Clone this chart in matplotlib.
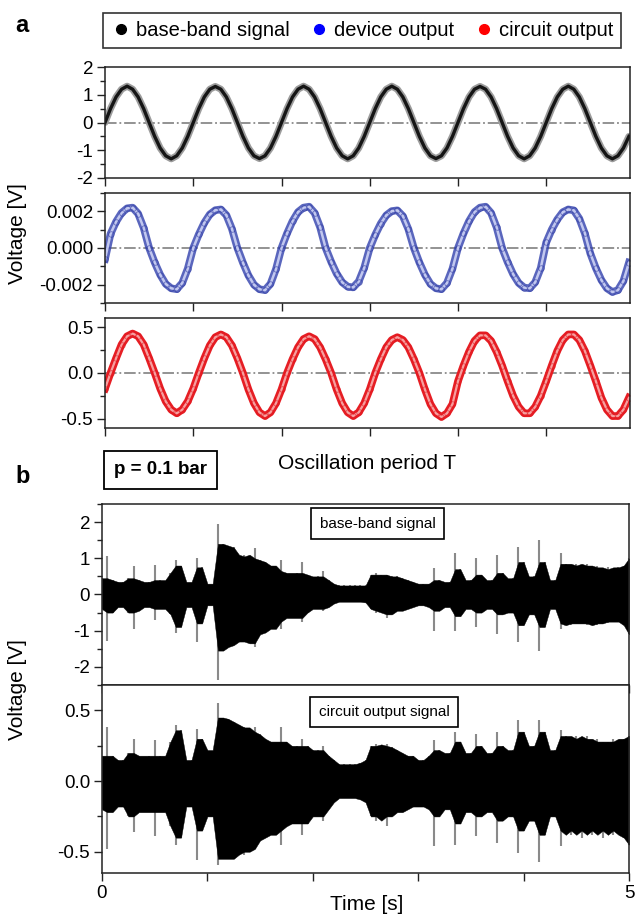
import numpy as np
import matplotlib.pyplot as plt
from matplotlib.lines import Line2D
from matplotlib.ticker import MultipleLocator

plt.rcParams['font.family'] = ['Liberation Sans', 'DejaVu Sans']
plt.rcParams['axes.unicode_minus'] = False

# panel a: readings every 1/16 of an oscillation period
period_t = np.arange(96) / 16.0

base_band = [
    0.00, 0.50, 0.92, 1.20, 1.31, 1.20, 0.92, 0.50, 0.00, -0.50, -0.92, -1.20, -1.31, -1.20, -0.92, -0.50,
    0.00, 0.50, 0.92, 1.20, 1.30, 1.20, 0.92, 0.50, 0.00, -0.50, -0.92, -1.20, -1.30, -1.20, -0.92, -0.50,
    0.00, 0.50, 0.92, 1.20, 1.31, 1.20, 0.92, 0.50, 0.00, -0.50, -0.92, -1.20, -1.31, -1.20, -0.92, -0.50,
    0.00, 0.50, 0.92, 1.20, 1.31, 1.20, 0.92, 0.50, 0.00, -0.50, -0.92, -1.20, -1.30, -1.20, -0.92, -0.50,
    0.00, 0.50, 0.92, 1.20, 1.30, 1.20, 0.92, 0.50, 0.00, -0.50, -0.92, -1.20, -1.31, -1.20, -0.92, -0.50,
    0.00, 0.50, 0.92, 1.20, 1.31, 1.20, 0.92, 0.50, 0.00, -0.50, -0.92, -1.20, -1.31, -1.20, -0.92, -0.50,
]

# device output in mV
device_mv = [
    -0.60, 0.77, 1.43, 1.91, 2.16, 2.20, 1.87, 1.10, 0.00, -0.79, -1.46, -1.96, -2.20, -2.25, -1.91, -1.13,
    0.00, 0.74, 1.37, 1.83, 2.06, 2.10, 1.79, 1.05, 0.00, -0.80, -1.50, -2.00, -2.25, -2.30, -1.96, -1.15,
    0.00, 0.79, 1.46, 1.96, 2.20, 2.25, 1.91, 1.13, 0.00, -0.75, -1.40, -1.87, -2.11, -2.15, -1.83, -1.08,
    0.00, 0.72, 1.33, 1.78, 2.01, 2.05, 1.74, 1.03, 0.00, -0.79, -1.46, -1.96, -2.20, -2.25, -1.91, -1.13,
    0.00, 0.79, 1.46, 1.96, 2.20, 2.25, 1.91, 1.13, 0.00, -0.77, -1.43, -1.91, -2.16, -2.20, -1.87, -1.10,
    0.30, 1.00, 1.55, 1.95, 2.10, 2.05, 1.60, 0.80, -0.30, -1.10, -1.75, -2.20, -2.40, -2.30, -1.80, -0.80,
]

circuit_a = [
    -0.17, 0.00, 0.16, 0.31, 0.40, 0.43, 0.40, 0.31, 0.16, 0.00, -0.17, -0.31, -0.40, -0.44, -0.40, -0.31,
    -0.17, 0.00, 0.16, 0.30, 0.39, 0.42, 0.39, 0.30, 0.16, 0.00, -0.18, -0.33, -0.43, -0.47, -0.43, -0.33,
    -0.18, 0.00, 0.15, 0.28, 0.37, 0.40, 0.37, 0.28, 0.15, 0.00, -0.18, -0.33, -0.43, -0.47, -0.43, -0.33,
    -0.18, 0.00, 0.15, 0.28, 0.36, 0.39, 0.36, 0.28, 0.15, 0.00, -0.18, -0.34, -0.44, -0.48, -0.44, -0.34,
    -0.09, 0.08, 0.23, 0.35, 0.41, 0.41, 0.35, 0.23, 0.08, -0.09, -0.25, -0.37, -0.44, -0.44, -0.37, -0.25,
    -0.09, 0.08, 0.24, 0.36, 0.42, 0.42, 0.36, 0.24, 0.08, -0.09, -0.27, -0.40, -0.47, -0.47, -0.40, -0.27,
]

# panel b: envelope of the recorded signals, read every 0.05 s
time_b = np.linspace(0, 5, 101)

bb_top = [
    0.45, 1.05, 0.40, 0.35, 0.35, 0.45, 0.78, 0.40, 0.30, 0.35,
    0.82, 0.40, 0.35, 0.60, 0.96, 0.80, 0.35, 0.30, 1.00, 0.75,
    0.30, 0.25, 1.96, 1.40, 1.35, 1.30, 1.05, 1.10, 1.00, 1.28,
    0.95, 0.90, 0.80, 0.65, 0.96, 0.60, 0.55, 0.60, 0.90, 0.55,
    0.45, 0.50, 0.64, 0.40, 0.30, 0.25, 0.25, 0.25, 0.25, 0.25,
    0.25, 0.55, 0.60, 0.55, 0.55, 0.50, 0.50, 0.45, 0.40, 0.35,
    0.30, 0.30, 0.30, 0.73, 0.40, 0.30, 0.35, 1.14, 0.70, 0.30,
    0.40, 1.00, 0.55, 0.30, 0.40, 1.10, 0.60, 0.35, 0.45, 1.32,
    0.90, 0.40, 0.50, 1.50, 0.90, 0.40, 0.40, 1.14, 0.85, 0.80,
    0.85, 0.80, 0.85, 0.75, 0.80, 0.70, 0.75, 0.70, 0.75, 0.80,
    1.00,
]
bb_bot = [
    -0.40, -1.28, -0.50, -0.35, -0.30, -0.50, -0.96, -0.45, -0.30, -0.35,
    -0.70, -0.40, -0.35, -0.55, -1.05, -0.90, -0.35, -0.30, -1.32, -0.80,
    -0.30, -0.25, -2.37, -1.55, -1.45, -1.40, -1.20, -1.30, -1.35, -1.45,
    -1.10, -1.05, -0.95, -0.75, -0.95, -0.65, -0.60, -0.65, -0.75, -0.50,
    -0.40, -0.40, -0.45, -0.35, -0.25, -0.20, -0.20, -0.20, -0.20, -0.20,
    -0.22, -0.40, -0.50, -0.45, -0.65, -0.55, -0.45, -0.45, -0.40, -0.35,
    -0.30, -0.30, -0.35, -1.00, -0.45, -0.30, -0.35, -1.00, -0.60, -0.30,
    -0.40, -0.91, -0.50, -0.30, -0.40, -1.10, -0.55, -0.35, -0.50, -1.32,
    -0.85, -0.40, -0.55, -1.55, -0.90, -0.40, -0.40, -0.95, -0.80, -0.85,
    -0.80, -0.80, -0.85, -0.80, -0.85, -0.75, -0.80, -0.75, -0.70, -0.85,
    -1.10,
]

co_top = [
    0.18, 0.38, 0.18, 0.15, 0.15, 0.20, 0.30, 0.18, 0.15, 0.18,
    0.29, 0.18, 0.15, 0.28, 0.40, 0.36, 0.15, 0.15, 0.37, 0.30,
    0.22, 0.18, 0.55, 0.45, 0.44, 0.42, 0.40, 0.38, 0.35, 0.38,
    0.33, 0.30, 0.28, 0.25, 0.38, 0.28, 0.25, 0.25, 0.30, 0.25,
    0.22, 0.22, 0.25, 0.18, 0.15, 0.12, 0.12, 0.12, 0.12, 0.13,
    0.15, 0.25, 0.26, 0.25, 0.26, 0.24, 0.22, 0.20, 0.18, 0.18,
    0.15, 0.15, 0.18, 0.29, 0.22, 0.18, 0.20, 0.35, 0.28, 0.18,
    0.20, 0.33, 0.25, 0.18, 0.20, 0.35, 0.25, 0.18, 0.22, 0.43,
    0.35, 0.20, 0.25, 0.43, 0.35, 0.20, 0.22, 0.36, 0.32, 0.30,
    0.32, 0.30, 0.32, 0.28, 0.30, 0.28, 0.28, 0.30, 0.28, 0.30,
    0.32,
]
co_bot = [
    -0.20, -0.48, -0.22, -0.18, -0.18, -0.25, -0.36, -0.22, -0.18, -0.22,
    -0.39, -0.22, -0.18, -0.32, -0.45, -0.40, -0.18, -0.18, -0.56, -0.35,
    -0.25, -0.20, -0.59, -0.55, -0.55, -0.55, -0.50, -0.52, -0.50, -0.48,
    -0.42, -0.40, -0.38, -0.35, -0.45, -0.32, -0.30, -0.30, -0.38, -0.30,
    -0.25, -0.25, -0.28, -0.20, -0.15, -0.12, -0.12, -0.12, -0.12, -0.13,
    -0.15, -0.25, -0.28, -0.25, -0.32, -0.25, -0.22, -0.22, -0.20, -0.18,
    -0.15, -0.18, -0.20, -0.46, -0.25, -0.18, -0.20, -0.45, -0.30, -0.20,
    -0.22, -0.39, -0.25, -0.18, -0.22, -0.44, -0.28, -0.20, -0.25, -0.51,
    -0.35, -0.22, -0.28, -0.57, -0.38, -0.22, -0.25, -0.46, -0.35, -0.38,
    -0.35, -0.40, -0.35, -0.38, -0.35, -0.40, -0.35, -0.38, -0.35, -0.40,
    -0.45,
]


def median3(vals):
    # running median over 3 readings: the dense body without single spikes
    v = np.pad(np.asarray(vals), 1, mode='edge')
    return np.median(np.vstack([v[:-2], v[1:-1], v[2:]]), axis=0)


def style_axis(ax):
    for s in ax.spines.values():
        s.set_linewidth(1.1)
        s.set_color('#222222')
    ax.tick_params(which='both', direction='out', labelsize=13.5, width=1.0, color='#222222', pad=2.5)
    ax.tick_params(which='major', length=6)
    ax.tick_params(which='minor', length=3.5)


fig = plt.figure(figsize=(6.35, 9.17), dpi=100)

# ---- panel a ----
ax1 = fig.add_axes([0.1654, 0.8059, 0.8268, 0.1210])
ax2 = fig.add_axes([0.1654, 0.6696, 0.8268, 0.1200])
ax3 = fig.add_axes([0.1654, 0.5333, 0.8268, 0.1200])

ax1.plot(period_t, base_band, color='#9c9c9c', lw=5.0, solid_capstyle='round')
ax1.plot(period_t, base_band, color='#151515', lw=2.4)
ax1.set_ylim(-2, 2)
ax1.yaxis.set_major_locator(MultipleLocator(1))
ax1.yaxis.set_minor_locator(MultipleLocator(0.5))

dev = np.array(device_mv) / 1000.0
ax2.plot(period_t, dev, color='#3140ad', lw=5.5, alpha=0.8)
ax2.plot(period_t, dev, color='#c2c8ef', lw=1.8)
ax2.plot(period_t, dev, 'o', ms=4, mfc='none', mec='#2a36a0', mew=0.6, alpha=0.6)
ax2.set_ylim(-0.003, 0.003)
ax2.yaxis.set_major_locator(MultipleLocator(0.002))
ax2.yaxis.set_minor_locator(MultipleLocator(0.001))
ax2.yaxis.set_major_formatter(lambda v, p: f'{v:.3f}')

ax3.plot(period_t, circuit_a, color='#e61e24', lw=5.5)
ax3.plot(period_t, circuit_a, color='#f6a0a0', lw=1.6)
ax3.plot(period_t, circuit_a, 'o', ms=4, mfc='none', mec='#e0141c', mew=0.6, alpha=0.6)
ax3.set_ylim(-0.6, 0.6)
ax3.yaxis.set_major_locator(MultipleLocator(0.5))
ax3.yaxis.set_minor_locator(MultipleLocator(0.25))
ax3.yaxis.set_major_formatter(lambda v, p: f'{v:.1f}')

for ax in (ax1, ax2, ax3):
    ax.axhline(0, color='#8a8a8a', lw=1.3, ls='-.', zorder=0.5)
    ax.set_xlim(0, 5.95)
    ax.set_xticks(range(6))
    ax.set_xticklabels([])
    style_axis(ax)

handles = [Line2D([], [], marker='o', ls='', color=c, ms=7) for c in ('black', '#0000ff', '#ff0000')]
leg = fig.legend(handles, ['base-band signal', 'device output', 'circuit output'],
                 loc='upper left', bbox_to_anchor=(103 / 635, 1 - 13 / 917),
                 ncol=3, fontsize=14.5, frameon=True, fancybox=False, handletextpad=0.25,
                 handlelength=1.0, borderaxespad=0, borderpad=0.4, columnspacing=0.95)
leg.get_frame().set_edgecolor('black')
leg.get_frame().set_linewidth(1.2)

fig.text(0.024, 0.972, 'a', fontsize=17, fontweight='bold', ha='left', va='center')
fig.text(0.028, 1 - 234 / 917, 'Voltage [V]', fontsize=15, rotation=90, ha='center', va='center')
fig.text(0.578, 1 - 463 / 917, 'Oscillation period T', fontsize=15, ha='center', va='center')

# ---- panel b ----
bx1 = fig.add_axes([0.1606, 0.2530, 0.8300, 0.1974])
bx2 = fig.add_axes([0.1606, 0.0480, 0.8300, 0.2050])

for ax, top, bot, lim in ((bx1, bb_top, bb_bot, (-2.5, 2.5)), (bx2, co_top, co_bot, (-0.65, 0.68))):
    ax.vlines(time_b, bot, top, color='#8a8a8a', lw=1.5, zorder=1)
    ax.fill_between(time_b, -median3(np.abs(bot)), median3(top), color='black', lw=0.3,
                    edgecolor='black', zorder=2)
    ax.set_xlim(0, 5)
    ax.set_ylim(*lim)
    ax.set_xticks(range(6))
    style_axis(ax)

bx1.set_xticklabels([])
bx1.yaxis.set_major_locator(MultipleLocator(1))
bx1.yaxis.set_minor_locator(MultipleLocator(0.5))
bx2.yaxis.set_major_locator(MultipleLocator(0.5))
bx2.yaxis.set_minor_locator(MultipleLocator(0.25))
bx2.yaxis.set_major_formatter(lambda v, p: f'{v:.1f}')
bx2.set_xticklabels(['0', '', '', '', '', '5'])
fig.text(0.578, 1 - 905 / 917, 'Time [s]', fontsize=15, ha='center', va='center')

box = dict(boxstyle='square,pad=0.55', facecolor='white', edgecolor='black', lw=1.2)
bx1.text(0.523, 0.892, 'base-band signal', transform=bx1.transAxes, fontsize=11,
         ha='center', va='center', bbox=box, zorder=5)
bx2.text(0.535, 0.856, 'circuit output signal', transform=bx2.transAxes, fontsize=11,
         ha='center', va='center', bbox=box, zorder=5)

fig.text(0.253, 1 - 470 / 917, 'p = 0.1 bar', fontsize=13.5, fontweight='bold', ha='center', va='center',
         bbox=dict(boxstyle='square,pad=0.55', facecolor='white', edgecolor='black', lw=1.3))
fig.text(0.024, 1 - 477 / 917, 'b', fontsize=17, fontweight='bold', ha='left', va='center')
fig.text(0.028, 1 - 690 / 917, 'Voltage [V]', fontsize=15, rotation=90, ha='center', va='center')

fig.savefig('out.png', dpi=100)
